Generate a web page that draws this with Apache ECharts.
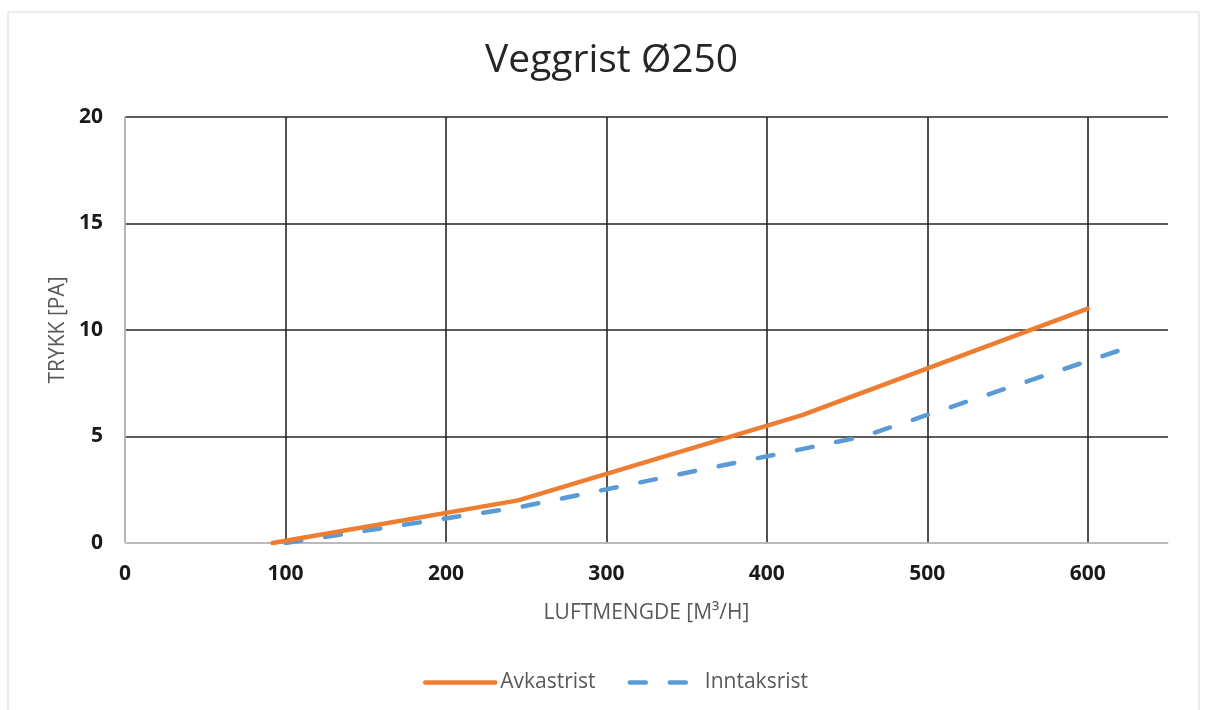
<!DOCTYPE html>
<html><head><meta charset="utf-8">
<script src="https://cdn.jsdelivr.net/npm/echarts@6/dist/echarts.min.js"></script>
<style>html,body{margin:0;padding:0;background:#fff}#c{width:1206px;height:710px}</style>
</head><body><div id="c"></div>
<script>
const titleText = 'Veggrist Ø250';
const xName = 'LUFTMENGDE [M³/H]';
const yName = 'TRYKK [PA]';
const xTicks = [0, 100, 200, 300, 400, 500, 600];
const avkastrist = [[92, 0], [245, 2.0], [422, 6.0], [600, 11.0]];
const inntaksrist = [[100, 0], [247, 1.7], [460, 5.0], [620, 9.05]];
const seriesNames = ['Avkastrist', 'Inntaksrist'];

const font = '"Open Sans", "Noto Sans", sans-serif';
const chart = echarts.init(document.getElementById('c'));
chart.setOption({
  animation: false,
  backgroundColor: '#fff',
  graphic: [{type: 'rect', shape: {x: 8, y: 12, width: 1191, height: 720}, style: {fill: 'none', stroke: '#d9d9d9', lineWidth: 1}, silent: true}],
  title: {text: titleText, left: 480, top: 36, textStyle: {fontFamily: font, fontSize: 39, fontWeight: 'normal', color: '#262626'}},
  grid: {left: 125, right: 38, top: 117, bottom: 167},
  legend: {bottom: 12, left: 418, itemWidth: 70, itemHeight: 14, itemGap: 32,
    itemStyle: {color: 'transparent', borderWidth: 0, opacity: 0},
    lineStyle: {width: 4.5, cap: 'round'},
    textStyle: {fontFamily: font, fontSize: 21, color: '#595959'},
    data: seriesNames},
  xAxis: {type: 'value', min: 0, max: 650, interval: 100,
    name: xName, nameLocation: 'middle', nameGap: 60,
    nameTextStyle: {fontFamily: font, fontSize: 21, color: '#595959'},
    axisLine: {show: true, lineStyle: {color: '#d9d9d9', width: 1.5}},
    axisTick: {show: false, customValues: xTicks},
    axisLabel: {customValues: xTicks, margin: 21, fontFamily: font, fontSize: 21, fontWeight: 'bold', color: '#1a1a1a'},
    splitLine: {show: true, lineStyle: {color: '#262626', width: 1.6}}},
  yAxis: {type: 'value', min: 0, max: 20, interval: 5,
    name: yName, nameLocation: 'middle', nameGap: 54, nameRotate: 90,
    nameTextStyle: {fontFamily: font, fontSize: 21, color: '#595959'},
    axisLine: {show: true, lineStyle: {color: '#d9d9d9', width: 1.5}},
    axisTick: {show: false},
    axisLabel: {margin: 22, fontFamily: font, fontSize: 21, fontWeight: 'bold', color: '#1a1a1a'},
    splitLine: {show: true, lineStyle: {color: '#262626', width: 1.6}}},
  series: [
    {name: seriesNames[0], type: 'line', data: avkastrist, symbol: 'none', z: 3,
      itemStyle: {color: '#ED7D31'},
      lineStyle: {color: '#ED7D31', width: 4.5, cap: 'round'}},
    {name: seriesNames[1], type: 'line', data: inntaksrist, symbol: 'none', z: 2,
      itemStyle: {color: '#5B9BD5'},
      lineStyle: {color: '#5B9BD5', width: 4.5, type: [16, 24], cap: 'round'}}
  ]
});
</script></body></html>
